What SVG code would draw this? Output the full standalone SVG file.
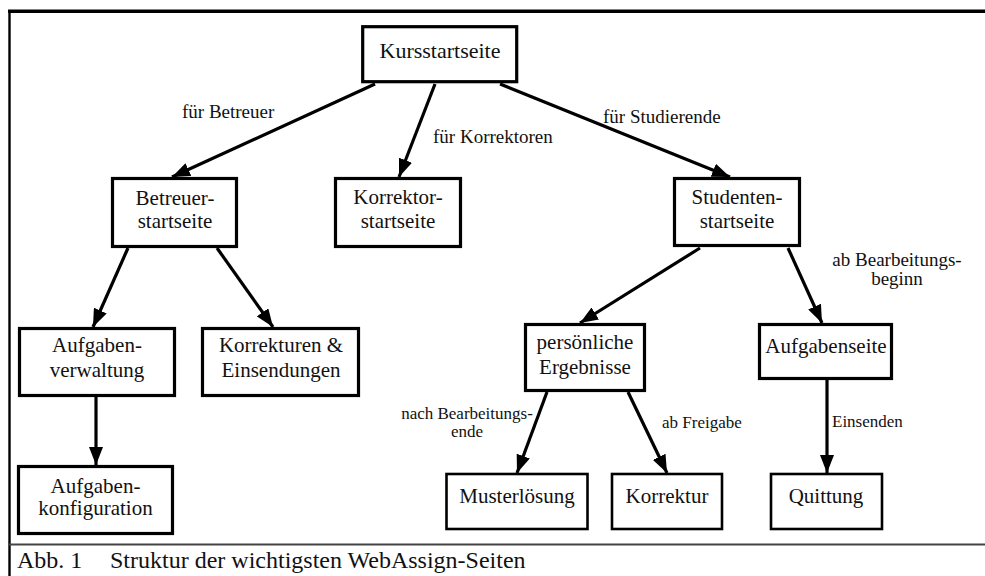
<svg xmlns="http://www.w3.org/2000/svg" width="985" height="576" viewBox="0 0 985 576">
<defs>
<style>
.box{fill:#fff;stroke:#000;stroke-width:3.2}
.thin{stroke-width:2.6}
.t{font-family:"Liberation Serif","Times New Roman",serif;font-size:21px;fill:#111;text-anchor:middle}
.kt{font-size:22px}
.lbl{font-family:"Liberation Serif","Times New Roman",serif;fill:#111}
.edge{stroke:#000;stroke-width:3.2;fill:none;marker-end:url(#ah)}
.cap{font-family:"Liberation Serif","Times New Roman",serif;font-size:24px;fill:#111}
</style>
<marker id="ah" markerUnits="userSpaceOnUse" markerWidth="18" markerHeight="14" viewBox="0 0 18 14" refX="18" refY="7" orient="auto">
<path d="M0,0 L18,7 L0,14 z" fill="#000"/>
</marker>
</defs>
<rect width="985" height="576" fill="#fff"/>
<g id="frame">
<line x1="8" y1="11.3" x2="985" y2="11.3" stroke="#000" stroke-width="3.5"/>
<line x1="9.5" y1="10" x2="9.5" y2="576" stroke="#000" stroke-width="2.4"/>
<line x1="9" y1="544.5" x2="985" y2="544.5" stroke="#444" stroke-width="2"/>
</g>
<g id="connectors">
<line class="edge" x1="375" y1="84" x2="172" y2="177"/>
<line class="edge" x1="435" y1="84" x2="399" y2="177"/>
<line class="edge" x1="500" y1="84" x2="730" y2="177"/>
<line class="edge" x1="128" y1="248" x2="93" y2="327"/>
<line class="edge" x1="217" y1="248" x2="273" y2="327"/>
<line class="edge" x1="96" y1="397" x2="96" y2="465"/>
<line class="edge" x1="700" y1="248" x2="580" y2="323"/>
<line class="edge" x1="788" y1="248" x2="822" y2="323"/>
<line class="edge" x1="547" y1="392" x2="517" y2="473"/>
<line class="edge" x1="628" y1="392" x2="667" y2="473"/>
<line class="edge" x1="827" y1="379" x2="827" y2="473"/>
</g>
<g id="labels">
<text class="lbl" x="182" y="118" font-size="19">für Betreuer</text>
<text class="lbl" x="433" y="143" font-size="19">für Korrektoren</text>
<text class="lbl" x="603" y="123" font-size="19">für Studierende</text>
<text class="lbl" x="897" y="266" font-size="19" text-anchor="middle">ab Bearbeitungs-</text>
<text class="lbl" x="897" y="285" font-size="19" text-anchor="middle">beginn</text>
<text class="lbl" x="467" y="419" font-size="17" text-anchor="middle">nach Bearbeitungs-</text>
<text class="lbl" x="467" y="437" font-size="17" text-anchor="middle">ende</text>
<text class="lbl" x="662" y="428" font-size="17">ab Freigabe</text>
<text class="lbl" x="832" y="427" font-size="17">Einsenden</text>
</g>
<g id="kursstartseite">
<rect class="box" x="362.7" y="26.7" width="154" height="55"/>
<text class="t kt" x="440" y="58">Kursstartseite</text>
</g>
<g id="betreuerstartseite">
<rect class="box" x="112.5" y="178.5" width="124" height="68"/>
<text class="t" x="175" y="205">Betreuer-</text>
<text class="t" x="175" y="228">startseite</text>
</g>
<g id="korrektorstartseite">
<rect class="box" x="335.5" y="178.5" width="125" height="68"/>
<text class="t" x="398" y="204">Korrektor-</text>
<text class="t" x="398" y="228">startseite</text>
</g>
<g id="studentenstartseite">
<rect class="box" x="674.5" y="178.5" width="125" height="67"/>
<text class="t" x="737" y="204">Studenten-</text>
<text class="t" x="737" y="228">startseite</text>
</g>
<g id="aufgabenverwaltung">
<rect class="box" x="19.5" y="328.5" width="155" height="67"/>
<text class="t" x="97" y="352">Aufgaben-</text>
<text class="t" x="97" y="377">verwaltung</text>
</g>
<g id="korrekturen">
<rect class="box" x="202.5" y="328.5" width="156" height="67"/>
<text class="t" x="281" y="352">Korrekturen &amp;</text>
<text class="t" x="281" y="377">Einsendungen</text>
</g>
<g id="aufgabenkonfiguration">
<rect class="box" x="18.5" y="466.5" width="154" height="67"/>
<text class="t" x="95.5" y="493">Aufgaben-</text>
<text class="t" x="95.5" y="515">konfiguration</text>
</g>
<g id="persoenliche-ergebnisse">
<rect class="box" x="525.5" y="324.5" width="119" height="66"/>
<text class="t" x="585" y="349">persönliche</text>
<text class="t" x="585" y="374">Ergebnisse</text>
</g>
<g id="aufgabenseite">
<rect class="box" x="759.5" y="324.5" width="132" height="54"/>
<text class="t" x="826" y="353">Aufgabenseite</text>
</g>
<g id="musterloesung">
<rect class="box thin" x="446.5" y="474" width="141" height="55"/>
<text class="t" x="517" y="503">Musterlösung</text>
</g>
<g id="korrektur">
<rect class="box thin" x="612" y="474" width="110" height="55"/>
<text class="t" x="667" y="503">Korrektur</text>
</g>
<g id="quittung">
<rect class="box thin" x="771" y="474" width="111" height="55"/>
<text class="t" x="826" y="503">Quittung</text>
</g>
<g id="caption">
<text class="cap" x="17" y="568">Abb. 1</text>
<text class="cap" x="110" y="568">Struktur der wichtigsten WebAssign-Seiten</text>
</g>
</svg>
